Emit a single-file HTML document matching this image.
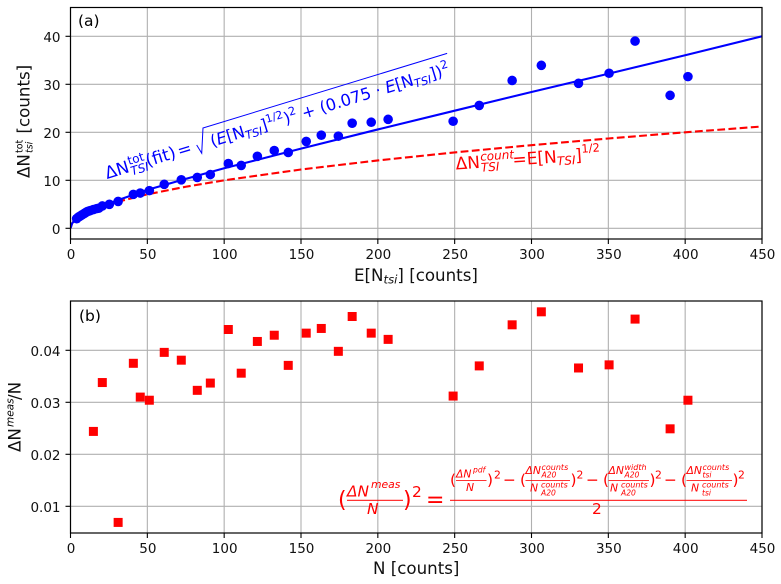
<!DOCTYPE html>
<html>
<head>
<meta charset="utf-8">
<title>Counting uncertainty chart</title>
<style>
html,body{margin:0;padding:0;background:#fff;}
svg{display:block;font-family:"DejaVu Sans","Liberation Sans",sans-serif;}
text{fill:#000;white-space:pre;}
.tick{font-size:13.5px;fill:#111;}
.lab{font-size:16.67px;fill:#111;}
.b text,.b{fill:#0000ff;}
.r text,.r{fill:#ff0000;}
.i{font-style:italic;}
</style>
</head>
<body>
<svg id="chart" width="781" height="584" viewBox="0 0 781 584" xmlns="http://www.w3.org/2000/svg">
<defs>
<clipPath id="clipA"><rect x="70.5" y="7.5" width="691.5" height="231.5"/></clipPath>
<clipPath id="clipB"><rect x="70.5" y="301" width="691.5" height="232"/></clipPath>
</defs>
<rect width="781" height="584" fill="#fff"/>
<g id="gridLayer"></g>
<g id="marksA" clip-path="url(#clipA)"></g>
<g id="marksB" clip-path="url(#clipB)"></g>
<g id="axisLayer"></g>

<text x="78" y="26" font-size="15.5" fill="#111">(a)</text>
<text x="79" y="321" font-size="15.5" fill="#111">(b)</text>

<text class="lab" x="354" y="281">E[N<tspan class="i" font-size="11.7" dy="2.5">tsi</tspan><tspan dy="-2.5">] [counts]</tspan></text>
<text class="lab" x="373" y="574">N [counts]</text>

<g transform="translate(29.5,178) rotate(-90)">
<text class="lab" x="0" y="0">ΔN</text>
<text font-size="9.5" fill="#111" x="25" y="-7">tot</text>
<text font-size="9.5" fill="#111" class="i" x="25" y="3">tsi</text>
<text class="lab" x="44.5" y="0">[counts]</text>
</g>
<g transform="translate(20.7,452) rotate(-90)">
<text class="lab" x="0" y="0">ΔN</text>
<text font-size="10.5" fill="#111" class="i" x="25" y="-7">meas</text>
<text class="lab" x="52" y="0">/N</text>
</g>

<g class="b" transform="translate(107,179) rotate(-17)">
<text font-size="17" x="0" y="0">ΔN</text>
<text font-size="12" x="25" y="-7">tot</text>
<text font-size="12" class="i" x="25" y="4">TSI</text>
<text font-size="17" x="42.5" y="0">(fit)</text>
<text font-size="17" x="75.5" y="0">=</text>
<path d="M95.7,-6.3 L98.1,3.1 L106.7,-20.7 L362,-20.7" fill="none" stroke="#0000ff" stroke-width="1"/>
<text font-size="16.3" x="110" y="0">(<tspan class="i">E</tspan>[N<tspan class="i" font-size="11.4" dy="3">TSI</tspan><tspan dy="-3">]</tspan><tspan font-size="11" dy="-7">1/2</tspan><tspan dy="7">)</tspan><tspan font-size="11.4" dy="-7">2</tspan><tspan dy="7"> + (0.075 · </tspan><tspan class="i">E</tspan>[N<tspan class="i" font-size="11.4" dy="3">TSI</tspan><tspan dy="-3">])</tspan><tspan font-size="11.4" dy="-7">2</tspan></text>
</g>

<g class="r" transform="translate(456,169.5) rotate(-4)">
<text font-size="17" x="0" y="0">ΔN</text>
<text font-size="12" class="i" x="25" y="-7">count</text>
<text font-size="12" class="i" x="25" y="4">TSI</text>
<text font-size="17" x="57" y="0">=E[N<tspan class="i" font-size="12" dy="3">TSI</tspan><tspan dy="-3">]</tspan><tspan font-size="11.5" dy="-8">1/2</tspan></text>
</g>

<g class="r">
<text font-size="22" x="338" y="507">(</text>
<text font-size="15.4" class="i" x="347" y="496.5">ΔN</text>
<text font-size="10.8" class="i" x="371" y="488">meas</text>
<rect x="347" y="499.8" width="56" height="1" fill="#ff0000"/>
<text font-size="15.4" class="i" x="367" y="514">N</text>
<text font-size="22" x="403" y="507">)</text>
<text font-size="15.4" x="412" y="497">2</text>
<text font-size="22" x="426" y="507">=</text>
<rect x="450" y="499.8" width="297" height="1" fill="#ff0000"/>
<text font-size="15.4" x="592" y="514">2</text>

<text font-size="15.4" x="450" y="485">(</text>
<text font-size="10.8" class="i" x="456" y="477.3">ΔN</text>
<text font-size="7.6" class="i" x="473" y="472.7">pdf</text>
<rect x="456" y="480" width="30.5" height="0.8" fill="#ff0000"/>
<text font-size="10.8" class="i" x="466" y="491">N</text>
<text font-size="15.4" x="487" y="485">)</text>
<text font-size="10.8" x="494" y="478.3">2</text>
<text font-size="15.4" x="503" y="485">−</text>

<text font-size="15.4" x="520" y="485">(</text>
<text font-size="10.8" class="i" x="525.5" y="474">ΔN</text>
<text font-size="8" class="i" x="541.5" y="470">counts</text>
<text font-size="7.6" class="i" x="541.5" y="477.3">A20</text>
<rect x="525.5" y="480" width="44.5" height="0.8" fill="#ff0000"/>
<text font-size="10.8" class="i" x="530" y="491.7">N</text>
<text font-size="8" class="i" x="541" y="487.3">counts</text>
<text font-size="7.6" class="i" x="541" y="495.7">A20</text>
<text font-size="15.4" x="570.5" y="485">)</text>
<text font-size="10.8" x="576.5" y="478.3">2</text>
<text font-size="15.4" x="586" y="485">−</text>

<text font-size="15.4" x="603" y="485">(</text>
<text font-size="10.8" class="i" x="608.5" y="474">ΔN</text>
<text font-size="8" class="i" x="624.5" y="470">width</text>
<text font-size="7.6" class="i" x="624.5" y="477.3">A20</text>
<rect x="608.5" y="480" width="40.5" height="0.8" fill="#ff0000"/>
<text font-size="10.8" class="i" x="610" y="491.7">N</text>
<text font-size="8" class="i" x="621" y="487.3">counts</text>
<text font-size="7.6" class="i" x="621" y="495.7">A20</text>
<text font-size="15.4" x="649.5" y="485">)</text>
<text font-size="10.8" x="655" y="478.3">2</text>
<text font-size="15.4" x="664" y="485">−</text>

<text font-size="15.4" x="681" y="485">(</text>
<text font-size="10.8" class="i" x="686.5" y="474">ΔN</text>
<text font-size="8" class="i" x="702.5" y="470">counts</text>
<text font-size="7.6" class="i" x="702.5" y="477.3">tsi</text>
<rect x="686.5" y="480" width="45.5" height="0.8" fill="#ff0000"/>
<text font-size="10.8" class="i" x="691" y="491.7">N</text>
<text font-size="8" class="i" x="702" y="487.3">counts</text>
<text font-size="7.6" class="i" x="702" y="495.7">tsi</text>
<text font-size="15.4" x="732.5" y="485">)</text>
<text font-size="10.8" x="738" y="478.3">2</text>
</g>

<script>
var xTickLabels = [0, 50, 100, 150, 200, 250, 300, 350, 400, 450];
var yTickLabelsA = [0, 10, 20, 30, 40];
var yTickLabelsB = [0.01, 0.02, 0.03, 0.04];

var curveX = [0, 1, 2, 5, 10, 20, 30, 50, 75, 100, 150, 200, 250, 300, 350, 400, 450];
var fitCurve = [0, 1, 1.42, 2.28, 3.25, 4.66, 5.77, 8, 10.3, 12.5, 16.6, 20.6, 24.5, 28.4, 32.2, 36.05, 40];
var countCurve = [0, 1, 1.41, 2.24, 3.16, 4.47, 5.48, 7.07, 8.66, 10, 12.25, 14.14, 15.81, 17.32, 18.71, 20, 21.21];

var smallExpected = [4, 5, 6, 7, 8, 9, 10, 11, 12, 13, 14.9, 17, 18.5, 25.3];
var smallMeasured = [2.0, 2.3, 2.5, 2.7, 2.9, 3.1, 3.3, 3.5, 3.6, 3.7, 3.9, 4.1, 4.2, 5.0];

var expectedCounts = [20.7, 31, 40.9, 45.4, 51.3, 61, 72.1, 82.5, 91, 102.7, 111.1, 121.6, 132.6, 141.7, 153.4, 163.2, 174.3, 183.3, 195.7, 206.7, 249, 266, 287.4, 306.4, 330.6, 350.5, 367.4, 390.2, 401.8];
var measuredDelta = [4.65, 5.6, 7.07, 7.35, 7.85, 9.16, 10.1, 10.6, 11.2, 13.5, 13.1, 15, 16.2, 15.8, 18.1, 19.4, 19.2, 21.9, 22.1, 22.7, 22.3, 25.6, 30.8, 33.95, 30.2, 32.3, 39, 27.7, 31.6];

var bCounts = [14.9, 20.7, 31, 40.9, 45.4, 51.3, 61, 72.1, 82.5, 91, 102.7, 111.1, 121.6, 132.6, 141.7, 153.4, 163.2, 174.3, 183.3, 195.7, 206.7, 249, 266, 287.4, 306.4, 330.6, 350.5, 367.4, 390.2, 401.8];
var bRatio = [0.0244, 0.0338, 0.0069, 0.0375, 0.031, 0.0304, 0.0396, 0.0381, 0.0323, 0.0337, 0.044, 0.0356, 0.0417, 0.0429, 0.0371, 0.0433, 0.0442, 0.0398, 0.0465, 0.0433, 0.0421, 0.0312, 0.037, 0.0449, 0.0474, 0.0366, 0.0372, 0.046, 0.0249, 0.0304];

function sx(v) { return 70.5 + v * (691.5 / 450); }
function syA(v) { return 228.3 - v * 4.8; }
function syB(v) { return 506.3 - (v - 0.01) * 5200; }

var NS = 'http://www.w3.org/2000/svg';
function mk(tag, parent) {
  var el = document.createElementNS(NS, tag);
  parent.appendChild(el);
  return el;
}
var gridLayer = document.getElementById('gridLayer');
var axisLayer = document.getElementById('axisLayer');
var marksA = document.getElementById('marksA');
var marksB = document.getElementById('marksB');

function gridLine(x1, y1, x2, y2) {
  var l = mk('line', gridLayer);
  
  
  l.setAttribute('x1', x1); l.setAttribute('y1', y1);
  l.setAttribute('x2', x2); l.setAttribute('y2', y2);
  l.setAttribute('stroke', '#b0b0b0');
  l.setAttribute('stroke-width', '1.1');
}
function tickMark(x1, y1, x2, y2) {
  var l = mk('line', axisLayer);
  
  
  l.setAttribute('x1', x1); l.setAttribute('y1', y1);
  l.setAttribute('x2', x2); l.setAttribute('y2', y2);
  l.setAttribute('stroke', '#000');
  l.setAttribute('stroke-width', '1.1');
}
function tickText(x, y, anchor, s) {
  var t = mk('text', axisLayer);
  
  
  t.setAttribute('class', 'tick');
  t.setAttribute('x', x); t.setAttribute('y', y);
  t.setAttribute('text-anchor', anchor);
  t.textContent = s;
}

xTickLabels.forEach(function (v) {
  var x = sx(v);
  gridLine(x, 7.5, x, 239);
  gridLine(x, 301, x, 533);
  tickMark(x, 239, x, 244);
  tickMark(x, 533, x, 538);
  tickText(x + 0.5, 259, 'middle', String(v));
  tickText(x + 0.5, 553, 'middle', String(v));
});
yTickLabelsA.forEach(function (v) {
  var y = syA(v);
  gridLine(70.5, y, 762, y);
  tickMark(65.5, y, 70.5, y);
  tickText(60.5, y + 5.5, 'end', String(v));
});
yTickLabelsB.forEach(function (v) {
  var y = syB(v);
  gridLine(70.5, y, 762, y);
  tickMark(65.5, y, 70.5, y);
  tickText(60.5, y + 5.5, 'end', v.toFixed(2));
});

[[70.5, 7.5], [70.5, 301]].forEach(function (p, i) {
  var r = mk('rect', axisLayer);
  
  
  r.setAttribute('x', p[0]); r.setAttribute('y', p[1]);
  r.setAttribute('width', 691.5);
  r.setAttribute('height', i === 0 ? 231.5 : 232);
  r.setAttribute('fill', 'none');
  r.setAttribute('stroke', '#000');
  r.setAttribute('stroke-width', '1.2');
});

function curvePath(values) {
  return values.map(function (v, i) {
    return (i ? 'L' : 'M') + sx(curveX[i]).toFixed(2) + ',' + syA(v).toFixed(2);
  }).join(' ');
}
var countLine = mk('path', marksA);


countLine.setAttribute('d', curvePath(countCurve));
countLine.setAttribute('fill', 'none');
countLine.setAttribute('stroke', '#ff0000');
countLine.setAttribute('stroke-width', '2.1');
countLine.setAttribute('stroke-dasharray', '7.8,3.4');

var fitLine = mk('path', marksA);


fitLine.setAttribute('d', curvePath(fitCurve));
fitLine.setAttribute('fill', 'none');
fitLine.setAttribute('stroke', '#0000ff');
fitLine.setAttribute('stroke-width', '2.1');

function dot(xv, yv) {
  var c = mk('circle', marksA);
  
  
  c.setAttribute('cx', sx(xv));
  c.setAttribute('cy', syA(yv));
  c.setAttribute('r', '4.8');
  c.setAttribute('fill', '#0000ff');
}
smallExpected.forEach(function (xv, i) { dot(xv, smallMeasured[i]); });
expectedCounts.forEach(function (xv, i) { dot(xv, measuredDelta[i]); });

bCounts.forEach(function (xv, i) {
  var s = mk('rect', marksB);
  
  
  s.setAttribute('x', sx(xv) - 4.5);
  s.setAttribute('y', syB(bRatio[i]) - 4.5);
  s.setAttribute('width', '9');
  s.setAttribute('height', '9');
  s.setAttribute('fill', '#ff0000');
});
</script>
</svg>
</body>
</html>
